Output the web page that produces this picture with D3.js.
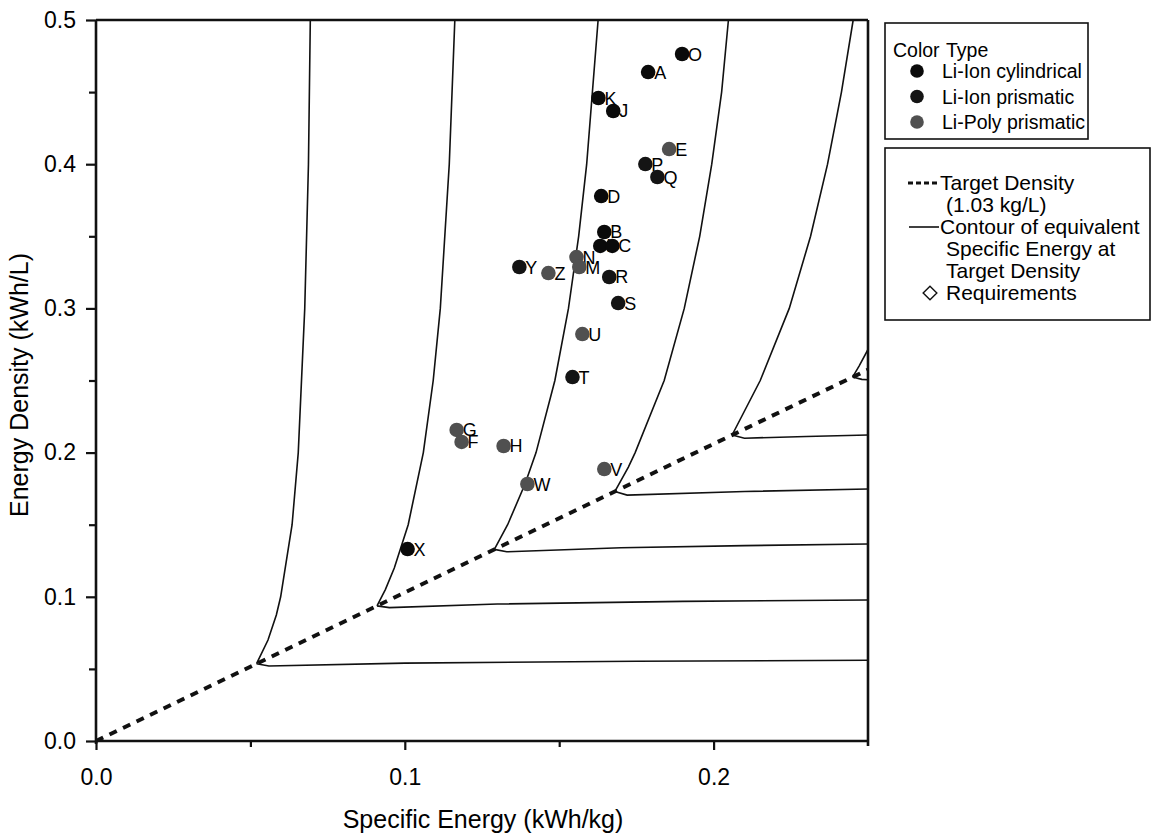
<!DOCTYPE html>
<html>
<head>
<meta charset="utf-8">
<script src="https://cdn.jsdelivr.net/npm/d3@7"></script>
<style>
  html, body { margin: 0; padding: 0; background: #fff; }
  svg { display: block; font-family: "Liberation Sans", Arial, sans-serif; }
</style>
</head>
<body>
<svg id="chart" width="1153" height="837"></svg>
<script>
// ---- Data -------------------------------------------------------------
// Cells: specific energy (kWh/kg), energy density (kWh/L)
const cellLabels  = ["O", "A", "K", "J", "E", "P", "Q", "D", "B", "I", "C", "N", "M", "Y", "Z", "R", "S", "U", "T", "G", "F", "H", "W", "V", "X"];
const cellEnergy  = [0.1898, 0.1788, 0.1627, 0.1675, 0.1856, 0.1779, 0.1818, 0.1636, 0.1646, 0.1633, 0.1672, 0.1556, 0.1565, 0.1371, 0.1465, 0.1662, 0.1691, 0.1575, 0.1543, 0.1168, 0.1184, 0.1320, 0.1397, 0.1646, 0.1009];
const cellDensity = [0.4764, 0.4639, 0.4459, 0.4369, 0.4105, 0.4001, 0.3911, 0.3779, 0.3530, 0.3433, 0.3433, 0.3356, 0.3287, 0.3287, 0.3245, 0.3218, 0.3037, 0.2822, 0.2524, 0.2157, 0.2074, 0.2046, 0.1782, 0.1886, 0.1331];
const cellType    = ["cyl", "cyl", "cyl", "cyl", "poly", "pri", "pri", "cyl", "cyl", "cyl", "cyl", "poly", "poly", "pri", "poly", "pri", "pri", "poly", "pri", "poly", "poly", "poly", "poly", "poly", "cyl"];

const typeKeys   = ["cyl", "pri", "poly"];
const typeNames  = ["Li-Ion cylindrical", "Li-Ion prismatic", "Li-Poly prismatic"];

// Target density line (kg/L)
const targetDensity = 1.03;
const targetEnergyRange = [0, 0.25];

// Contours of equivalent specific energy at target density:
// steep branch (buoyancy added) and flat branch (ballast added), [kWh/kg, kWh/L]
const contourSteep = [
  [[0.052, 0.0536], [0.0557, 0.07], [0.0584, 0.0874], [0.0598, 0.1], [0.0635, 0.15], [0.0655, 0.2], [0.0676, 0.3], [0.0688, 0.4], [0.0694, 0.5]],
  [[0.091, 0.0937], [0.0937, 0.105], [0.0966, 0.12], [0.1011, 0.15], [0.1060, 0.2], [0.1092, 0.25], [0.1115, 0.3], [0.1144, 0.4], [0.1162, 0.5]],
  [[0.129, 0.1329], [0.1333, 0.15], [0.1389, 0.178], [0.1425, 0.2], [0.1486, 0.25], [0.1530, 0.3], [0.1563, 0.35], [0.1589, 0.4], [0.1626, 0.5]],
  [[0.168, 0.1730], [0.1724, 0.19], [0.1746, 0.2], [0.1840, 0.25], [0.1905, 0.3], [0.1955, 0.35], [0.1994, 0.4], [0.2026, 0.45], [0.2048, 0.5]],
  [[0.206, 0.2122], [0.2151, 0.25], [0.2245, 0.3], [0.2314, 0.35], [0.2369, 0.4], [0.2414, 0.45], [0.2452, 0.5]],
  [[0.245, 0.2524], [0.2471, 0.26], [0.2500, 0.2715]]
];
const contourFlat = [
  [[0.052, 0.0536], [0.056, 0.0520], [0.100, 0.0540], [0.175, 0.0553], [0.250, 0.0560]],
  [[0.091, 0.0937], [0.095, 0.0925], [0.130, 0.0950], [0.190, 0.0968], [0.250, 0.0978]],
  [[0.129, 0.1329], [0.133, 0.1312], [0.170, 0.1340], [0.210, 0.1355], [0.250, 0.1366]],
  [[0.168, 0.1730], [0.172, 0.1705], [0.210, 0.1730], [0.250, 0.1748]],
  [[0.206, 0.2122], [0.210, 0.2100], [0.230, 0.2112], [0.250, 0.2122]],
  [[0.245, 0.2524], [0.248, 0.2508], [0.250, 0.2505]]
];

const xMajorTicks = [0, 0.1, 0.2];
const xMinorTicks = [0.05, 0.15];
const yMajorTicks = [0, 0.1, 0.2, 0.3, 0.4, 0.5];
const yMinorTicks = [0.05, 0.15, 0.25, 0.35, 0.45];

// ---- Layout -----------------------------------------------------------
const svg = d3.select("#chart");
const x = d3.scaleLinear().domain([0, 0.25]).range([96, 868]);
const y = d3.scaleLinear().domain([0, 0.5]).range([741, 20]);
const typeColor = d3.scaleOrdinal().domain(typeKeys).range(["#0a0a0a", "#141414", "#505050"]);
const ink = "#000";

svg.append("rect").attr("width", 1153).attr("height", 837).attr("fill", "#fff");

const line = d3.line().x(d => x(d[0])).y(d => y(d[1]));

// contours
const contours = svg.append("g").attr("fill", "none").attr("stroke", "#111").attr("stroke-width", 1.6);
contourSteep.forEach(c => contours.append("path").attr("d", line(c)));
contourFlat.forEach(c => contours.append("path").attr("d", line(c)));

// target density line
svg.append("path")
  .attr("d", line(targetEnergyRange.map(e => [e, e * targetDensity])))
  .attr("fill", "none").attr("stroke", "#111")
  .attr("stroke-width", 4).attr("stroke-dasharray", "8,7");

// ---- Axes -------------------------------------------------------------
const fmt = d3.format(".1f");
const tickFont = 23;

svg.append("g").attr("transform", `translate(0,${y(0)})`)
  .call(d3.axisBottom(x).tickValues(xMajorTicks).tickFormat(fmt).tickSize(9).tickPadding(19));
svg.append("g").attr("transform", `translate(0,${y(0)})`)
  .call(d3.axisBottom(x).tickValues(xMinorTicks).tickFormat("").tickSize(6));

svg.append("g").attr("transform", `translate(${x(0)},0)`)
  .call(d3.axisLeft(y).tickValues(yMajorTicks).tickFormat(fmt).tickSize(10).tickPadding(10));
svg.append("g").attr("transform", `translate(${x(0)},0)`)
  .call(d3.axisLeft(y).tickValues(yMinorTicks).tickFormat("").tickSize(7));

svg.selectAll(".domain").remove();
svg.selectAll(".tick line").attr("stroke", "#111").attr("stroke-width", 2.2);
svg.selectAll(".tick text").attr("font-size", tickFont).attr("fill", ink)
  .attr("font-family", "Liberation Sans, Arial, sans-serif");

// frame
const frame = svg.append("g").attr("stroke", "#111").attr("stroke-width", 2.6).attr("fill", "none");
frame.append("line").attr("x1", x(0)).attr("x2", x(0.25)).attr("y1", y(0)).attr("y2", y(0));
frame.append("line").attr("x1", x(0)).attr("x2", x(0.25)).attr("y1", y(0.5)).attr("y2", y(0.5));
frame.append("line").attr("x1", x(0)).attr("x2", x(0)).attr("y1", y(0.5)).attr("y2", y(0) + 3);
frame.append("line").attr("x1", x(0.25)).attr("x2", x(0.25)).attr("y1", y(0.5)).attr("y2", y(0) + 5);

svg.append("text").attr("x", 483).attr("y", 828).attr("text-anchor", "middle")
  .attr("font-size", 25).attr("fill", ink).text("Specific Energy (kWh/kg)");
svg.append("text").attr("transform", "translate(28,385) rotate(-90)").attr("text-anchor", "middle")
  .attr("font-size", 25).attr("fill", ink).text("Energy Density (kWh/L)");

// ---- Points -----------------------------------------------------------
const cells = cellLabels.map((l, i) => ({ label: l, e: cellEnergy[i], d: cellDensity[i], type: cellType[i] }));

svg.append("g").selectAll("text").data(cells).join("text")
  .attr("x", d => x(d.e) + 6).attr("y", d => y(d.d) + 6.5)
  .attr("font-size", 18).attr("fill", ink).text(d => d.label);

svg.append("g").selectAll("circle").data(cells).join("circle")
  .attr("cx", d => x(d.e)).attr("cy", d => y(d.d)).attr("r", 7.3)
  .attr("fill", d => typeColor(d.type));

// ---- Legends ----------------------------------------------------------
const legend1Font = 19.5;
const legend2Font = 21;
const lg1 = svg.append("g");
lg1.append("rect").attr("x", 885).attr("y", 23).attr("width", 203).attr("height", 116)
  .attr("fill", "#fff").attr("stroke", "#111").attr("stroke-width", 1.6);
lg1.append("text").attr("x", 893).attr("y", 57).attr("font-size", legend1Font).attr("fill", ink).text("Color");
lg1.append("text").attr("x", 946).attr("y", 57).attr("font-size", legend1Font).attr("fill", ink).text("Type");
typeKeys.forEach((k, i) => {
  const cy = 71 + i * 25.5;
  lg1.append("circle").attr("cx", 917).attr("cy", cy).attr("r", 6.8).attr("fill", typeColor(k));
  lg1.append("text").attr("x", 942).attr("y", cy + 7).attr("font-size", legend1Font).attr("fill", ink).text(typeNames[i]);
});

const lg2 = svg.append("g");
lg2.append("rect").attr("x", 885).attr("y", 148).attr("width", 265).attr("height", 172)
  .attr("fill", "#fff").attr("stroke", "#111").attr("stroke-width", 1.6);
lg2.append("line").attr("x1", 908).attr("x2", 939).attr("y1", 183).attr("y2", 183)
  .attr("stroke", "#111").attr("stroke-width", 3).attr("stroke-dasharray", "5,3");
lg2.append("text").attr("x", 940).attr("y", 190).attr("font-size", legend2Font).attr("fill", ink).text("Target Density");
lg2.append("text").attr("x", 946).attr("y", 212).attr("font-size", legend2Font).attr("fill", ink).text(`(${targetDensity} kg/L)`);
lg2.append("line").attr("x1", 909).attr("x2", 939).attr("y1", 227).attr("y2", 227)
  .attr("stroke", "#111").attr("stroke-width", 1.6);
lg2.append("text").attr("x", 940).attr("y", 234).attr("font-size", legend2Font).attr("fill", ink).text("Contour of equivalent");
lg2.append("text").attr("x", 946).attr("y", 256).attr("font-size", legend2Font).attr("fill", ink).text("Specific Energy at");
lg2.append("text").attr("x", 946).attr("y", 278).attr("font-size", legend2Font).attr("fill", ink).text("Target Density");
lg2.append("path").attr("d", d3.symbol(d3.symbolDiamond2, 120)()).attr("transform", "translate(930,293)")
  .attr("fill", "#fff").attr("stroke", "#111").attr("stroke-width", 1.4);
lg2.append("text").attr("x", 946).attr("y", 300).attr("font-size", legend2Font).attr("fill", ink).text("Requirements");
</script>
</body>
</html>
